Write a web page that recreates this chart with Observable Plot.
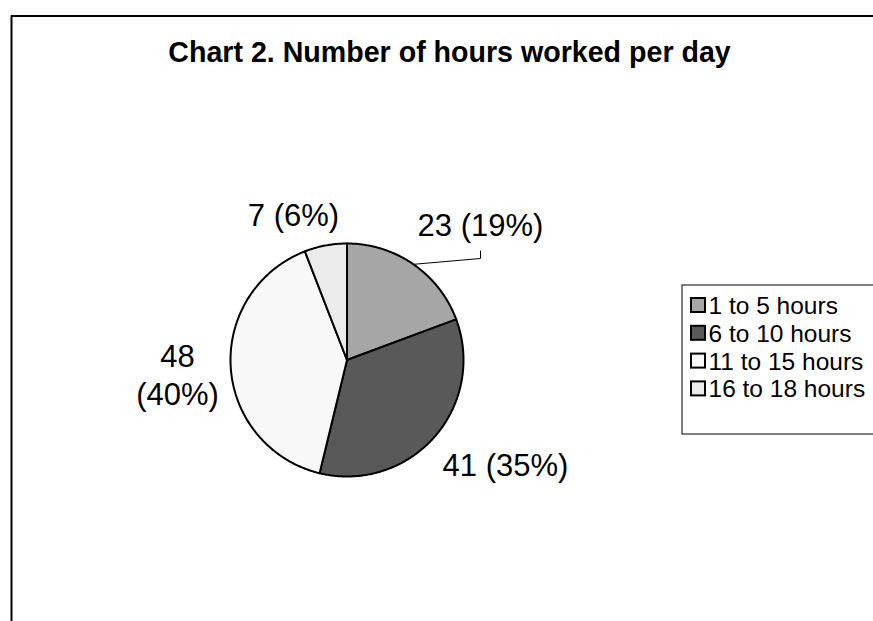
<!DOCTYPE html>
<html><head><meta charset="utf-8">
<script src="https://cdn.jsdelivr.net/npm/d3@7"></script>
<script src="https://cdn.jsdelivr.net/npm/@observablehq/plot@0.6"></script>
<style>body{margin:0;background:#fff}</style>
</head><body><div id="chart"></div>
<script>
// ---- data ----
const categories = ["1 to 5 hours", "6 to 10 hours", "11 to 15 hours", "16 to 18 hours"];
const counts = [23, 41, 48, 7];
const percentLabels = ["19%", "35%", "40%", "6%"];
const colors = ["#a6a6a6", "#595959", "#f8f8f8", "#ebebeb"];
const title = "Chart 2. Number of hours worked per day";

// ---- layout ----
const W = 873, H = 621;
const cx = 346.5, cy = 359.5, R = 116.5;
const labelLayout = [
  {x: 480, y: 235, wrap: false},
  {x: 505, y: 475, wrap: false},
  {x: 177, y: 404, wrap: true},
  {x: 293, y: 225, wrap: false}
];
const legend = {x: 691, y: 298, step: 27.8, box: 14, boxLeft: 682, boxTop: 285, boxBottom: 434};

const arcs = d3.pie().sort(null).value(d => d)(counts);
const slicePts = [];
arcs.forEach((a, i) => {
  slicePts.push({cat: categories[i], x: cx, y: cy});
  const n = Math.max(2, Math.ceil((a.endAngle - a.startAngle) / 0.01));
  for (let k = 0; k <= n; k++) {
    const t = a.startAngle + (a.endAngle - a.startAngle) * k / n;
    slicePts.push({cat: categories[i], x: cx + R * Math.sin(t), y: cy - R * Math.cos(t)});
  }
});

const labels = counts.map((c, i) => ({
  text: labelLayout[i].wrap ? `${c}\n(${percentLabels[i]})` : `${c} (${percentLabels[i]})`,
  x: labelLayout[i].x, y: labelLayout[i].y
}));

// leader line for first slice
const mid0 = (arcs[0].startAngle + arcs[0].endAngle) / 2;
const leader = [
  {x: labelLayout[0].x, y: labelLayout[0].y + 15.5},
  {x: labelLayout[0].x, y: labelLayout[0].y + 23},
  {x: cx + R * Math.sin(mid0), y: cy - R * Math.cos(mid0)}
];

const legendItems = categories.map((c, i) => ({cat: c, i}));

const chart = Plot.plot({
  width: W, height: H, margin: 0,
  style: {fontFamily: "'Liberation Sans', Arial, sans-serif", background: "#fff"},
  x: {domain: [0, W], range: [0, W], axis: null},
  y: {domain: [0, H], range: [0, H], axis: null},
  color: {domain: categories, range: colors},
  marks: [
    // outer frame
    Plot.ruleY([15.5], {x1: 11, x2: W, stroke: "#000", strokeWidth: 2}),
    Plot.ruleX([11], {y1: 15.5, y2: H, stroke: "#000", strokeWidth: 2}),
    // title
    Plot.text([title], {x: () => 449, y: () => 61, text: d => d, fontSize: 28.6, fontWeight: "bold", textAnchor: "middle", lineAnchor: "bottom"}),
    // pie
    Plot.line(slicePts, {x: "x", y: "y", z: "cat", fill: "cat", stroke: "#000", strokeWidth: 2, curve: "linear-closed", strokeLinejoin: "round"}),
    // leader line
    Plot.line(leader, {x: "x", y: "y", stroke: "#000", strokeWidth: 1}),
    // labels
    Plot.text(labels, {x: "x", y: "y", text: "text", fontSize: 31, textAnchor: "middle", lineAnchor: "bottom", lineHeight: 1.22}),
    // legend box
    Plot.rect([0], {x1: legend.boxLeft, x2: W + 10, y1: legend.boxTop, y2: legend.boxBottom, fill: "#fff", stroke: "#000", strokeWidth: 1}),
    Plot.rect(legendItems, {
      x1: legend.x, x2: legend.x + legend.box,
      y1: d => legend.y + d.i * legend.step, y2: d => legend.y + d.i * legend.step + legend.box,
      fill: "cat", stroke: "#000", strokeWidth: 2
    }),
    Plot.text(legendItems, {
      x: legend.x + 17, y: d => legend.y + 15.5 + d.i * legend.step, text: "cat",
      fontSize: 24.5, textAnchor: "start", lineAnchor: "bottom"
    })
  ]
});
document.getElementById("chart").appendChild(chart);
</script>
</body></html>
